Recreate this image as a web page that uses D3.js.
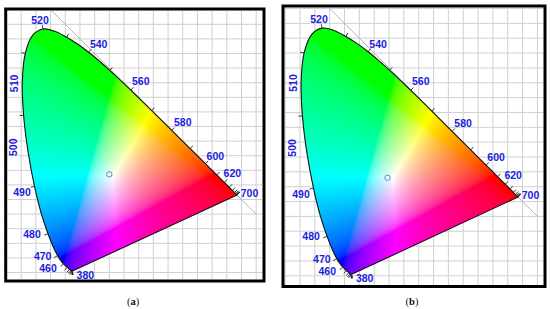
<!DOCTYPE html>
<html><head><meta charset="utf-8">
<script src="https://cdn.jsdelivr.net/npm/d3@7"></script>
<style>body{margin:0;background:#fff}</style></head>
<body>
<svg id="chart" width="550" height="309"></svg>
<script>
// ---- Data ----
const wavelengths = [380,385,390,395,400,405,410,415,420,425,430,435,440,445,450,455,460,465,470,475,480,485,490,495,500,505,510,515,520,525,530,535,540,545,550,555,560,565,570,575,580,585,590,595,600,605,610,615,620,625,630,635,640,645,650,655,660,665,670,675,680,685,690,695,700];
const locusX = [0.1741,0.1740,0.1738,0.1736,0.1733,0.1730,0.1726,0.1721,0.1714,0.1703,0.1689,0.1669,0.1644,0.1611,0.1566,0.1510,0.1440,0.1355,0.1241,0.1096,0.0913,0.0687,0.0454,0.0235,0.0082,0.0039,0.0139,0.0389,0.0743,0.1142,0.1547,0.1929,0.2296,0.2658,0.3016,0.3373,0.3731,0.4087,0.4441,0.4788,0.5125,0.5448,0.5752,0.6029,0.6270,0.6482,0.6658,0.6801,0.6915,0.7006,0.7079,0.7140,0.7190,0.7230,0.7260,0.7283,0.7300,0.7311,0.7320,0.7327,0.7334,0.7340,0.7344,0.7346,0.7347];
const locusY = [0.0050,0.0050,0.0049,0.0049,0.0048,0.0048,0.0048,0.0048,0.0051,0.0058,0.0069,0.0086,0.0109,0.0138,0.0177,0.0227,0.0297,0.0399,0.0578,0.0868,0.1327,0.2007,0.2950,0.4127,0.5384,0.6548,0.7502,0.8120,0.8338,0.8262,0.8059,0.7816,0.7543,0.7243,0.6923,0.6589,0.6245,0.5896,0.5547,0.5202,0.4866,0.4544,0.4242,0.3965,0.3725,0.3514,0.3340,0.3197,0.3083,0.2993,0.2920,0.2859,0.2809,0.2770,0.2740,0.2717,0.2700,0.2689,0.2680,0.2673,0.2666,0.2660,0.2656,0.2654,0.2653];
const tickWavelengths = [380,390,400,410,420,430,440,450,460,470,480,490,500,510,520,530,540,550,560,570,580,590,600,610,620,630,640,650,660,670,680,690,700];
const labelWavelengths = [380,460,470,480,490,500,510,520,540,560,580,600,620,700];
const gridX = [-0.05,0,0.05,0.1,0.15,0.2,0.25,0.3,0.35,0.4,0.45,0.5,0.55,0.6,0.65,0.7,0.75,0.8,0.85];
const gridY = [0,0.05,0.1,0.15,0.2,0.25,0.3,0.35,0.4,0.45,0.5,0.55,0.6,0.65,0.7,0.75,0.8,0.85,0.9];
const whitePointA = [0.300, 0.336];
const whitePointB = [0.295, 0.330];
const captions = ["(a)", "(b)"];

// ---- Layout (pixels) ----
const panels = [
  {box:[5.7,9,264,281], xr:[21.2,256.2], yr:[272.5,9.7], wp:whitePointA, cap:captions[0], capX:133},
  {box:[283,6,545,286.5], xr:[300,537.4], yr:[275.8,8.5], wp:whitePointB, cap:captions[1], capX:412}
];
const labelOffsets = {380:[13,4],460:[-15.5,4],470:[-15,1],480:[-16,0],490:[-12.5,5.6],500:[-10,32],510:[-11,30],520:[-3,-9],540:[10,-8],560:[10,-9],580:[11,-8],600:[10,-8],620:[8,-9.5],700:[12.5,-1.5]};
const rotated = {500:true,510:true};

const svg = d3.select("#chart");
const defs = svg.append("defs");

function gammaEnc(c){ return c <= 0.0031308 ? 12.92*c : 1.055*Math.pow(c,1/2.4)-0.055; }
const locusLine = d3.line().curve(d3.curveCatmullRom.alpha(0.5));

panels.forEach((p, pi) => {
  const x = d3.scaleLinear().domain([0,0.8]).range(p.xr);
  const y = d3.scaleLinear().domain([0,0.9]).range(p.yr);
  const [bx0,by0,bx1,by1] = p.box;
  const ix0 = bx0+1.5, iy0 = by0+1.5, ix1 = bx1-1.5, iy1 = by1-1.5;
  const g = svg.append("g");

  defs.append("clipPath").attr("id","inner"+pi)
    .append("rect").attr("x",ix0).attr("y",iy0).attr("width",ix1-ix0).attr("height",iy1-iy0);

  const pts = wavelengths.map((w,i)=>[x(locusX[i]), y(locusY[i])]);
  const locusD = locusLine(pts)+"Z";
  defs.append("clipPath").attr("id","locus"+pi)
    .append("path").attr("d", locusD);

  const gg = g.append("g").attr("clip-path","url(#inner"+pi+")");
  gg.append("rect").attr("x",ix0).attr("y",iy0).attr("width",ix1-ix0).attr("height",iy1-iy0).attr("fill","#fff");
  gg.selectAll(".gx").data(gridX).join("line")
    .attr("x1",d=>x(d)).attr("x2",d=>x(d)).attr("y1",iy0).attr("y2",iy1)
    .attr("stroke","#cfcfcf").attr("stroke-width",1);
  gg.selectAll(".gy").data(gridY).join("line")
    .attr("y1",d=>y(d)).attr("y2",d=>y(d)).attr("x1",ix0).attr("x2",ix1)
    .attr("stroke","#cfcfcf").attr("stroke-width",1);
  gg.append("line").attr("x1",x(0.1)).attr("y1",y(0.9)).attr("x2",x(0.8)).attr("y2",y(0.2))
    .attr("stroke","#b8b8b8").attr("stroke-width",1);

  // color fill
  const W = Math.ceil(ix1-ix0), H = Math.ceil(iy1-iy0);
  const cv = document.createElement("canvas"); cv.width=W; cv.height=H;
  const ctx = cv.getContext("2d");
  const img = ctx.createImageData(W,H);
  for (let j=0;j<H;j++){
    for (let i=0;i<W;i++){
      const cx = x.invert(ix0+i+0.5), cy = y.invert(iy0+j+0.5);
      let r=0,gr=0,b=0;
      if (cy > 0.001){
        const X = cx/cy, Y = 1, Z = (1-cx-cy)/cy;
        r = 3.2406*X -1.5372*Y -0.4986*Z;
        gr = -0.9689*X +1.8758*Y +0.0415*Z;
        b = 0.0557*X -0.2040*Y +1.0570*Z;
        r=Math.max(0,r); gr=Math.max(0,gr); b=Math.max(0,b);
        const m = Math.max(r,gr,b) || 1;
        r/=m; gr/=m; b/=m;
      }
      const k=(j*W+i)*4;
      img.data[k]=Math.round(255*gammaEnc(r));
      img.data[k+1]=Math.round(255*gammaEnc(gr));
      img.data[k+2]=Math.round(255*gammaEnc(b));
      img.data[k+3]=255;
    }
  }
  ctx.putImageData(img,0,0);
  g.append("image").attr("href", cv.toDataURL()).attr("x",ix0).attr("y",iy0)
    .attr("width",W).attr("height",H).attr("clip-path","url(#locus"+pi+")");

  // outline
  g.append("path").attr("d", locusD).attr("fill","none")
    .attr("stroke","#111").attr("stroke-width",1.1).attr("stroke-linejoin","round");

  // ticks
  const cxp = x(0.33), cyp = y(0.33);
  function normalAt(i){
    const a = pts[Math.max(0,i-1)], b2 = pts[Math.min(pts.length-1,i+1)];
    let tx=b2[0]-a[0], ty=b2[1]-a[1];
    const L=Math.hypot(tx,ty)||1; tx/=L; ty/=L;
    let nx=ty, ny=-tx;
    if (nx*(pts[i][0]-cxp)+ny*(pts[i][1]-cyp) < 0){ nx=-nx; ny=-ny; }
    return [nx,ny];
  }
  g.selectAll(".tk").data(tickWavelengths).join("line")
    .each(function(w){
      const i = wavelengths.indexOf(w);
      const [nx,ny] = normalAt(i);
      d3.select(this).attr("x1",pts[i][0]).attr("y1",pts[i][1])
        .attr("x2",pts[i][0]+nx*4).attr("y2",pts[i][1]+ny*4);
    })
    .attr("stroke","#222").attr("stroke-width",0.9);

  // labels
  g.selectAll(".lb").data(labelWavelengths).join("text")
    .each(function(w){
      const i = wavelengths.indexOf(w);
      const o = labelOffsets[w];
      const tx = pts[i][0]+o[0], ty = pts[i][1]+o[1];
      const s = d3.select(this);
      if (rotated[w]) s.attr("transform",`translate(${tx},${ty}) rotate(-90)`);
      else s.attr("transform",`translate(${tx},${ty})`);
    })
    .attr("text-anchor","middle").attr("dy","0.36em")
    .attr("font-family","'Liberation Sans', Arial, sans-serif").attr("font-weight","bold")
    .attr("font-size","10.5px").attr("fill","#1c1ce0")
    .text(d=>d);

  // white point
  g.append("circle").attr("cx",x(p.wp[0])).attr("cy",y(p.wp[1])).attr("r",2.7)
    .attr("fill","none").attr("stroke","#4f8fc4").attr("stroke-width",1);

  // border
  g.append("rect").attr("x",bx0).attr("y",by0).attr("width",bx1-bx0).attr("height",by1-by0)
    .attr("fill","none").attr("stroke","#000").attr("stroke-width",3);

  // caption
  const cap = svg.append("text").attr("x",p.capX).attr("y",305).attr("text-anchor","middle")
    .attr("font-family","'Liberation Serif', 'Times New Roman', serif").attr("font-size","10.5px").attr("fill","#111");
  cap.append("tspan").text("(");
  cap.append("tspan").attr("font-weight","bold").text(p.cap.slice(1,2));
  cap.append("tspan").text(")");
});
</script>
</body></html>
